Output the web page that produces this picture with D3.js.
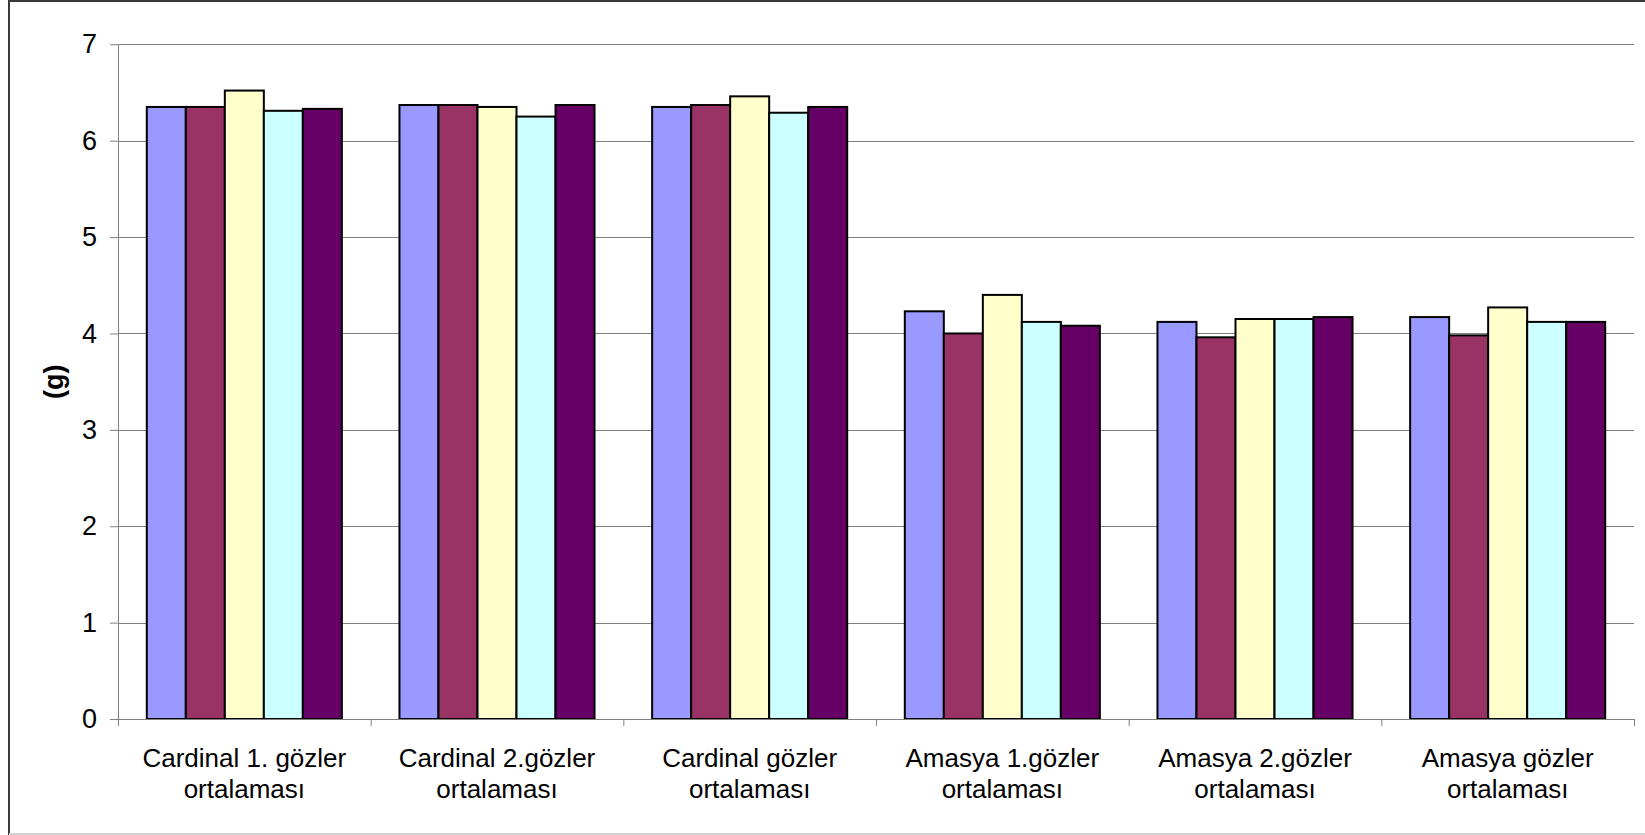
<!DOCTYPE html>
<html>
<head>
<meta charset="utf-8">
<script src="https://cdn.jsdelivr.net/npm/d3@7"></script>
<style>
  html, body { margin: 0; padding: 0; background: #fff; }
  svg { display: block; }
  text { font-family: Arial, "Liberation Sans", sans-serif; fill: #000; }
</style>
</head>
<body>
<svg id="chart" width="1645" height="835"></svg>
<script>
const categoriesLine1 = ["Cardinal 1. gözler", "Cardinal 2.gözler", "Cardinal gözler", "Amasya 1.gözler", "Amasya 2.gözler", "Amasya gözler"];
const categoriesLine2 = ["ortalaması", "ortalaması", "ortalaması", "ortalaması", "ortalaması", "ortalaması"];
const seriesNames = ["s1", "s2", "s3", "s4", "s5"];
const series1 = [6.35, 6.37, 6.35, 4.23, 4.12, 4.17];
const series2 = [6.35, 6.37, 6.37, 4.00, 3.96, 3.98];
const series3 = [6.52, 6.35, 6.46, 4.40, 4.15, 4.27];
const series4 = [6.31, 6.25, 6.29, 4.12, 4.15, 4.12];
const series5 = [6.33, 6.37, 6.35, 4.08, 4.17, 4.12];
const seriesColors = ["#9999FF", "#993366", "#FFFFCC", "#CCFFFF", "#660066"];
const yTicks = [0, 1, 2, 3, 4, 5, 6, 7];
const yTitle = "(g)";

const allSeries = [series1, series2, series3, series4, series5];

const svg = d3.select("#chart");
const plotLeft = 118, plotRight = 1634, plotTop = 44.3, plotBottom = 719;

// outer frame
svg.append("line").attr("x1", 9).attr("x2", 1645).attr("y1", 1).attr("y2", 1)
  .attr("stroke", "#3a3a3a").attr("stroke-width", 2);
svg.append("line").attr("x1", 9).attr("x2", 9).attr("y1", 0).attr("y2", 835)
  .attr("stroke", "#3a3a3a").attr("stroke-width", 2);
svg.append("line").attr("x1", 9).attr("x2", 1645).attr("y1", 834).attr("y2", 834)
  .attr("stroke", "#d4d4d4").attr("stroke-width", 2);

const x0 = d3.scaleBand().domain(d3.range(categoriesLine1.length)).range([plotLeft, plotRight]).paddingInner(0).paddingOuter(0);
const bw = x0.bandwidth();
const gapHalf = bw * 0.114;
const x1 = d3.scaleBand().domain(d3.range(seriesNames.length)).range([gapHalf, bw - gapHalf]).padding(0);
const y = d3.scaleLinear().domain([0, 7]).range([plotBottom, plotTop]);

// gridlines
svg.append("g").selectAll("line").data(yTicks.filter(d => d > 0)).join("line")
  .attr("x1", plotLeft).attr("x2", plotRight)
  .attr("y1", d => Math.round(y(d)) + 0.5).attr("y2", d => Math.round(y(d)) + 0.5)
  .attr("stroke", "#808080").attr("stroke-width", 1);

// bars
const groups = svg.append("g").selectAll("g").data(d3.range(categoriesLine1.length)).join("g")
  .attr("transform", i => `translate(${x0(i)},0)`);
groups.selectAll("rect").data(i => allSeries.map((s, k) => ({k, v: s[i]}))).join("rect")
  .attr("x", d => x1(d.k))
  .attr("width", x1.bandwidth())
  .attr("y", d => y(d.v))
  .attr("height", d => y(0) - y(d.v))
  .attr("fill", d => seriesColors[d.k])
  .attr("stroke", "#000").attr("stroke-width", 2);

// y axis
const yAxis = svg.append("g").attr("transform", `translate(${plotLeft},0)`)
  .call(d3.axisLeft(y).tickValues(yTicks).tickFormat(d3.format("d")).tickSize(8).tickSizeOuter(0).tickPadding(13));
yAxis.select(".domain").attr("stroke", "#808080");
yAxis.selectAll(".tick line").attr("stroke", "#808080");
yAxis.selectAll(".tick text").attr("font-size", 27).attr("font-family", "Arial, 'Liberation Sans', sans-serif").attr("fill", "#000");

// x axis (ticks at category boundaries)
const xEdge = d3.scaleLinear().domain([0, categoriesLine1.length]).range([plotLeft, plotRight]);
const xAxis = svg.append("g").attr("transform", `translate(0,${plotBottom})`)
  .call(d3.axisBottom(xEdge).tickValues(d3.range(categoriesLine1.length + 1)).tickFormat("").tickSize(7).tickSizeOuter(0));
xAxis.select(".domain").attr("stroke", "#808080");
xAxis.selectAll(".tick line").attr("stroke", "#808080");

// category labels
const lab = svg.append("g").selectAll("text").data(d3.range(categoriesLine1.length)).join("text")
  .attr("text-anchor", "middle").attr("font-size", 26);
lab.append("tspan").attr("x", i => x0(i) + bw / 2).attr("y", 766.5).text(i => categoriesLine1[i]);
lab.append("tspan").attr("x", i => x0(i) + bw / 2).attr("y", 798).text(i => categoriesLine2[i]);

// y title
svg.append("text")
  .attr("transform", `translate(63,${(plotTop + plotBottom) / 2}) rotate(-90)`)
  .attr("text-anchor", "middle")
  .attr("font-size", 27).attr("font-weight", "bold")
  .text(yTitle);
</script>
</body>
</html>
